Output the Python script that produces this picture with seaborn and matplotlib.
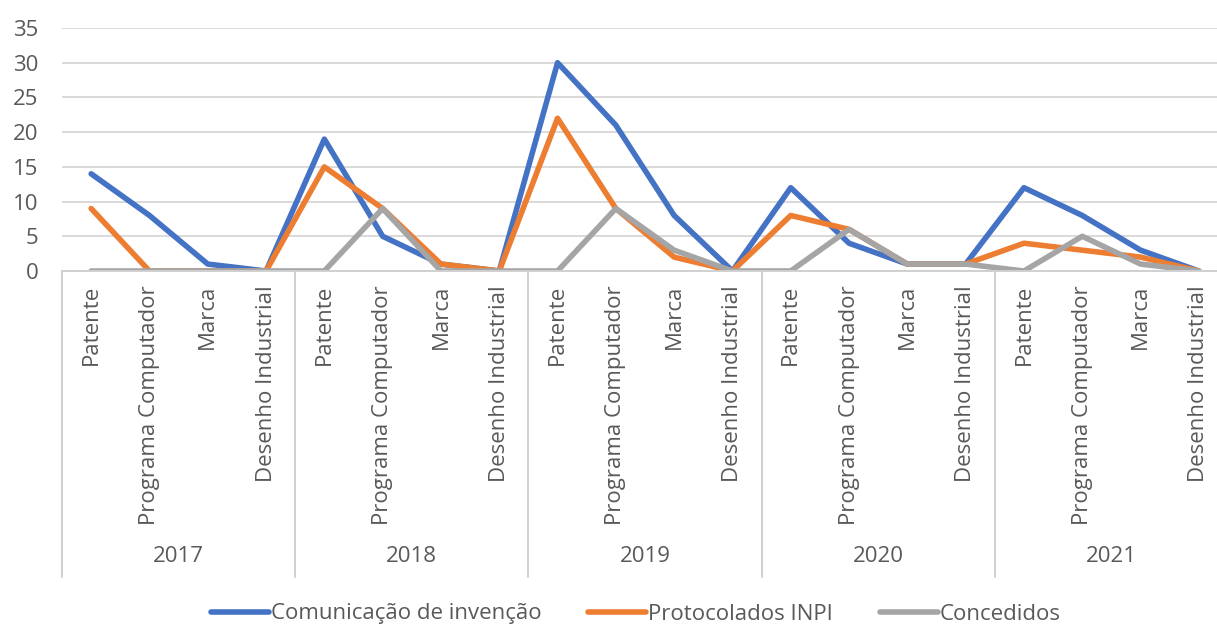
import numpy as np
import pandas as pd
import matplotlib
matplotlib.use("Agg")
import matplotlib.pyplot as plt
import matplotlib.transforms as mtransforms
from matplotlib.lines import Line2D
import seaborn as sns

# Data
years = ["2017", "2018", "2019", "2020", "2021"]
tipos = ["Patente", "Programa Computador", "Marca", "Desenho Industrial"]
comunicacao = [14, 8, 1, 0, 19, 5, 1, 0, 30, 21, 8, 0, 12, 4, 1, 1, 12, 8, 3, 0]
protocolados = [9, 0, 0, 0, 15, 9, 1, 0, 22, 9, 2, 0, 8, 6, 1, 1, 4, 3, 2, 0]
concedidos = [0, 0, 0, 0, 0, 9, 0, 0, 0, 9, 3, 0, 0, 6, 1, 1, 0, 5, 1, 0]
series_names = ["Comunicação de invenção", "Protocolados INPI", "Concedidos"]
colors = ["#4472C4", "#ED7D31", "#A5A5A5"]

sns.set_theme(style="white")
plt.rcParams["font.family"] = ["Open Sans", "DejaVu Sans"]
text_color = "#595959"
fs = 16

n = len(years) * len(tipos)
pos = np.arange(n)
df = pd.DataFrame({
    "pos": np.tile(pos, 3),
    "valor": comunicacao + protocolados + concedidos,
    "serie": np.repeat(series_names, n),
})

W, H = 1217, 626
fig = plt.figure(figsize=(W / 100, H / 100), dpi=100)
x0, x1, y_top, y_zero = 62, 1228, 28, 271
ax = fig.add_axes([x0 / W, (H - y_zero) / H, (x1 - x0) / W, (y_zero - y_top) / H])

sns.lineplot(data=df, x="pos", y="valor", hue="serie", palette=colors,
             hue_order=series_names, linewidth=4.0, ax=ax, legend=False,
             solid_capstyle="round", solid_joinstyle="round")

ax.set_xlim(-0.5, n - 0.5)
ax.set_ylim(0, 35)
ax.set_yticks(range(0, 36, 5))
ax.yaxis.grid(True, color="#D9D9D9", linewidth=1.4)
ax.set_axisbelow(True)
for s in ["top", "left", "right"]:
    ax.spines[s].set_visible(False)
ax.spines["bottom"].set_color("#D0D0D0")
ax.spines["bottom"].set_linewidth(1.4)
ax.tick_params(axis="y", length=0, pad=17, labelsize=fs, labelcolor=text_color)
ax.set_xlabel("")
ax.set_ylabel("")

# Category labels
ax.set_xticks(pos)
ax.set_xticklabels(tipos * len(years), rotation=90, va="top", ha="center")
ax.tick_params(axis="x", length=0, pad=10, labelsize=fs, labelcolor=text_color)

# Year group separators and labels
trans = mtransforms.blended_transform_factory(ax.transData, ax.transAxes)
sep_bottom = -(577 - y_zero) / (y_zero - y_top)
year_y = -(557 - y_zero) / (y_zero - y_top)
for i, yr in enumerate(years):
    left = i * len(tipos) - 0.5
    ax.add_line(Line2D([left, left], [0, sep_bottom], transform=trans,
                       color="#D0D0D0", linewidth=1.4, clip_on=False))
    ax.text(left + len(tipos) / 2, year_y, yr, transform=trans, ha="center",
            va="center", fontsize=fs, color=text_color)
ax.add_line(Line2D([n - 0.5, n - 0.5], [0, sep_bottom], transform=trans,
                   color="#D0D0D0", linewidth=1.4, clip_on=False))

# Legend
handles = [Line2D([0], [0], color=c, linewidth=4.0, solid_capstyle="round")
           for c in colors]
fig.legend(handles, series_names, loc="center", bbox_to_anchor=(636 / W, 1 - 614 / H),
           ncol=3, frameon=False, fontsize=fs, handlelength=2.6,
           handletextpad=0.1, columnspacing=2.1, labelcolor=text_color)

fig.savefig("out.png", dpi=100, facecolor="white")
